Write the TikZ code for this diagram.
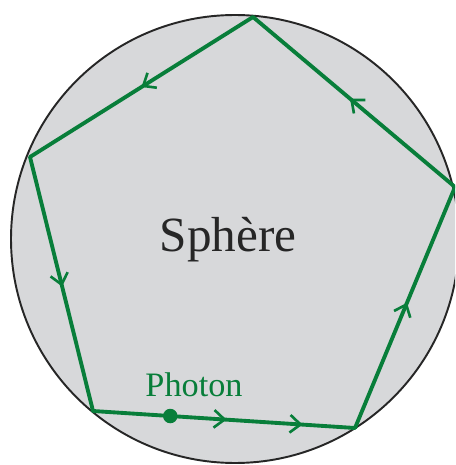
\documentclass[tikz,border=0pt]{standalone}
\usepackage{fontspec}
\setmainfont{Liberation Serif}
\usetikzlibrary{arrows.meta,decorations.markings,calc}
\definecolor{spheregray}{RGB}{215,216,218}
\definecolor{photongreen}{RGB}{8,126,58}

\begin{document}
\begin{tikzpicture}[x=0.02cm, y=-0.02cm,
    sphere/.style={draw=black!85, line width=1.1pt, fill=spheregray},
    trajectory/.style={draw=photongreen, line width=2.2pt, line cap=round},
    barb/.tip={Straight Barb[length=6pt, width=10pt, line width=1.5pt]},
    midarrow/.style={postaction={decorate, decoration={markings,
        mark=at position #1 with {\arrow{barb}}}}},
    photondot/.style={circle, fill=photongreen, inner sep=0pt, minimum size=0.29cm},
    bigtext/.style={font=\fontsize{28}{32}\selectfont, text=black!85},
    photonlabel/.style={font=\fontsize{19.5}{22}\selectfont, text=photongreen},
  ]
  \useasboundingbox (0,0) rectangle (455,465);
  \clip (0,0) rectangle (455,465);
  % sphere
  \path[sphere] (235,239) circle[radius=224];
  \node[bigtext] (sphere) at (228,240) {Sphère};
  % pentagon vertices
  \coordinate (top) at (253,17);
  \coordinate (left) at (30,157);
  \coordinate (right) at (455,187);
  \coordinate (botleft) at (93,411);
  \coordinate (botright) at (355,428);
  % photon path
  \draw[trajectory, midarrow=0.51, midarrow=0.80] (botleft) -- (botright);
  \draw[trajectory, midarrow=0.52] (botright) -- (right);
  \draw[trajectory, midarrow=0.52] (right) -- (top);
  \draw[trajectory, midarrow=0.50] (top) -- (left);
  \draw[trajectory, midarrow=0.51] (left) -- (botleft);
  \node[photondot] (photon) at ($(botleft)!0.295!(botright)$) {};
  \node[photonlabel] (photontext) at (194,385) {Photon};
\end{tikzpicture}
\end{document}
